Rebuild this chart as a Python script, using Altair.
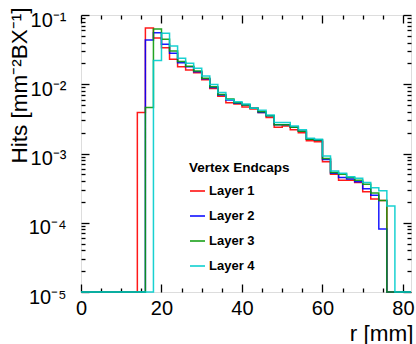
import altair as alt
import pandas as pd

# Lower edges of the 2 mm radial bins, 0 .. 80 mm (last bin ends at 82 mm)
r_lo = list(range(0, 82, 2))
r_max = 82

layer_names = ["Layer 1", "Layer 2", "Layer 3", "Layer 4"]
layer_colors = ["#ff0000", "#0000ff", "#0a9a0a", "#00cccc"]

# Hits per mm^2 per bunch crossing, one value per bin
hits_layer1 = [0] * 7 + [
    0.0039, 0.065, 0.0466, 0.0337, 0.0229, 0.0179, 0.0161, 0.0147, 0.0116, 0.0087,
    0.0067, 0.0054, 0.0052, 0.0047, 0.0044, 0.0039, 0.0033, 0.0024, 0.0025, 0.0022,
    0.0020, 0.00153, 0.00148, 0.00076, 0.00050, 0.00041, 0.00041, 0.00038, 0.00028,
    0.00022, 0.00021,
] + [0] * 3
hits_layer2 = [0] * 8 + [
    0.0436, 0.0555, 0.0378, 0.0280, 0.0205, 0.0179, 0.0152, 0.0120, 0.0090, 0.0070,
    0.0059, 0.0053, 0.0050, 0.0045, 0.0039, 0.0035, 0.0026, 0.0026, 0.0024, 0.0021,
    0.0016, 0.00155, 0.00082, 0.00052, 0.00045, 0.00043, 0.00039, 0.00031, 0.00025,
    0.000081,
] + [0] * 3
hits_layer3 = [0] * 8 + [
    0.0046, 0.0628, 0.0446, 0.0302, 0.0213, 0.0182, 0.0155, 0.0122, 0.0092, 0.0071,
    0.0061, 0.0054, 0.0050, 0.0045, 0.0040, 0.0035, 0.0026, 0.0026, 0.0024, 0.0021,
    0.0016, 0.00157, 0.00085, 0.00053, 0.00050, 0.00045, 0.00041, 0.00036, 0.00027,
    0.00021,
] + [0] * 3
hits_layer4 = [0] * 9 + [
    0.022, 0.0544, 0.0357, 0.0237, 0.0201, 0.0170, 0.0132, 0.0099, 0.0076, 0.0060,
    0.0056, 0.0052, 0.0045, 0.0042, 0.0036, 0.0028, 0.0028, 0.0025, 0.0022, 0.00166,
    0.00160, 0.00092, 0.00056, 0.00052, 0.00046, 0.00044, 0.00038, 0.00032, 0.00029,
    0.000175,
] + [0] * 2

# Axis ticks
x_major = [0, 20, 40, 60, 80]
x_minor = [5, 10, 15, 25, 30, 35, 45, 50, 55, 65, 70, 75]
y_floor = 1e-5
y_top = 0.1
y_major = [1e-5, 1e-4, 1e-3, 1e-2, 1e-1]
y_major_labels = ["10⁻⁵", "10⁻⁴", "10⁻³", "10⁻²", "10⁻¹"]
y_minor = [k * 10.0 ** e for e in (-5, -4, -3, -2) for k in range(2, 10)]

rows = []
for name, vals in zip(layer_names, [hits_layer1, hits_layer2, hits_layer3, hits_layer4]):
    for lo, v in zip(r_lo, vals):
        rows.append({"layer": name, "r": lo, "value": v})
    rows.append({"layer": name, "r": r_max, "value": vals[-1]})
df = pd.DataFrame(rows)

W, H = 330, 277
FONT = "Liberation Sans"

label_expr = "[" + ", ".join(f"'{t}'" for t in y_major_labels) + "][round(log(datum.value) / LN10) + 5]"

x_scale = alt.Scale(domain=[0, r_max], nice=False, zero=False)
y_scale = alt.Scale(type="log", domain=[y_floor, y_top], nice=False)

base = alt.Chart(df).transform_calculate(
    yv=f"max(datum.value, {y_floor})"
)

main = base.mark_line(interpolate="step-after", strokeWidth=1.5, strokeOpacity=0.9).encode(
    x=alt.X("r:Q", scale=x_scale, axis=alt.Axis(
        values=x_major, ticks=False, domain=False, grid=False,
        labelFontSize=20, labelPadding=6, labelFlush=False, labelFont=FONT, labelColor="black",
        title="r [mm]", titleFont=FONT, titleFontSize=22.5, titleFontWeight="normal",
        titleColor="black", titleX=W + 2, titleY=48, titleAlign="right",
        titleBaseline="alphabetic",
    )),
    y=alt.Y("yv:Q", scale=y_scale, axis=alt.Axis(
        values=y_major, labelExpr=label_expr, ticks=False, domain=False, grid=False,
        labelFontSize=20, labelPadding=15, labelFlush=False, labelOffset=5,
        labelFont=FONT, labelColor="black",
        title="Hits [mm⁻²BX⁻¹]", titleFont=FONT, titleFontSize=22.5, titleFontWeight="normal",
        titleColor="black", titleAngle=270, titleX=-55, titleY=-8, titleAlign="right",
        titleBaseline="alphabetic",
    )),
    color=alt.Color("layer:N", scale=alt.Scale(domain=layer_names, range=layer_colors),
                    legend=alt.Legend(
                        title="Vertex Endcaps", orient="none", legendX=108, legendY=146,
                        titleFont=FONT, titleFontSize=13.5, titleFontWeight="bold",
                        titleColor="black", titlePadding=8,
                        labelFont=FONT, labelFontSize=13, labelFontWeight="bold",
                        labelColor="black", labelOffset=3,
                        symbolType="stroke", symbolSize=225, symbolStrokeWidth=1.5,
                        rowPadding=9, padding=0,
                    )),
)


def tick_layer(xvals, yvals, size, x_orient, y_orient):
    """Invisible layer that only carries inward-pointing tick marks on the frame."""
    return base.mark_line(strokeOpacity=0).encode(
        x=alt.X("r:Q", scale=x_scale, axis=alt.Axis(
            values=xvals, orient=x_orient, offset=-H, labels=False, domain=False,
            grid=False, ticks=True, tickSize=size, tickWidth=1.3, tickColor="black", title="",
        )),
        y=alt.Y("yv:Q", scale=y_scale, axis=alt.Axis(
            values=yvals, orient=y_orient, offset=-W, labels=False, domain=False,
            grid=False, ticks=True, tickSize=size, tickWidth=1.3, tickColor="black", title="",
        )),
    )


chart = alt.layer(
    tick_layer(x_major, y_major, 8, "top", "right"),
    tick_layer(x_minor, y_minor, 4, "top", "right"),
    tick_layer(x_major, y_major, 8, "bottom", "left"),
    tick_layer(x_minor, y_minor, 4, "bottom", "left"),
    main,
).resolve_axis(x="independent", y="independent").properties(
    width=W, height=H,
    autosize=alt.AutoSizeParams(type="none"),
    padding={"left": 81, "top": 15, "right": 5, "bottom": 52},
).configure_view(stroke="black", strokeWidth=1.5).configure(background="white")

chart.save("out.html", embed_options={"renderer": "svg", "actions": False})
